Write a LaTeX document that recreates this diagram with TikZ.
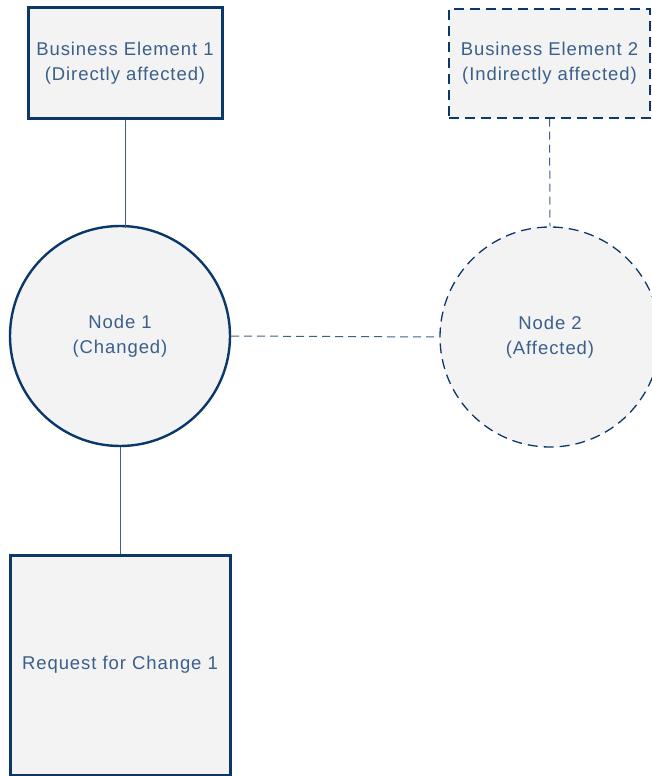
\documentclass[tikz,border=0pt]{standalone}
\usepackage{fontspec}
\setmainfont{Liberation Sans}[LetterSpace=5]
\usetikzlibrary{positioning}
\definecolor{navy}{HTML}{0B3869}
\definecolor{txt}{HTML}{3B5F8A}
\definecolor{boxfill}{HTML}{F3F3F3}
\definecolor{conn}{HTML}{3D5F88}
\begin{document}
\begin{tikzpicture}[x=1pt,y=-1pt,
  base/.style={fill=boxfill, draw=navy, text=txt, font=\fontsize{18.5}{25}\selectfont, align=center, inner sep=0pt},
  solidbox/.style={base, rectangle, line width=3pt},
  dashbox/.style={base, rectangle, line width=1.2pt, dash pattern=on 10pt off 6pt},
  solidcirc/.style={base, circle, line width=2.4pt},
  dashcirc/.style={base, circle, line width=1.3pt, dash pattern=on 10pt off 6pt},
  link/.style={draw=conn, line width=1pt},
  dlink/.style={link, dash pattern=on 8pt off 5pt}]
\clip (0,0) rectangle (652,776);
\useasboundingbox (0,0) rectangle (652,776);
\node[solidbox, minimum width=194pt, minimum height=110pt] (be1) at (125,63) {Business Element 1\\(Directly affected)};
\node[dashbox, minimum width=201pt, minimum height=109pt] (be2) at (549.5,63.5) {Business Element 2\\(Indirectly affected)};
\node[solidcirc, minimum size=220pt] (n1) at (120,336) {Node 1\\(Changed)};
\node[dashcirc, minimum size=220pt] (n2) at (550,337) {Node 2\\(Affected)};
\node[solidbox, minimum width=220pt, minimum height=220pt] (rfc) at (120,665) {Request for Change 1};
\coordinate (t1) at (125,228);
\draw[link] (be1.south) -- (t1);
\draw[link] (n1.south) -- (rfc.north);
\draw[dlink] (n1.east) -- (n2.west);
\draw[dlink] (be2.south) -- (n2.north);
\end{tikzpicture}
\end{document}
